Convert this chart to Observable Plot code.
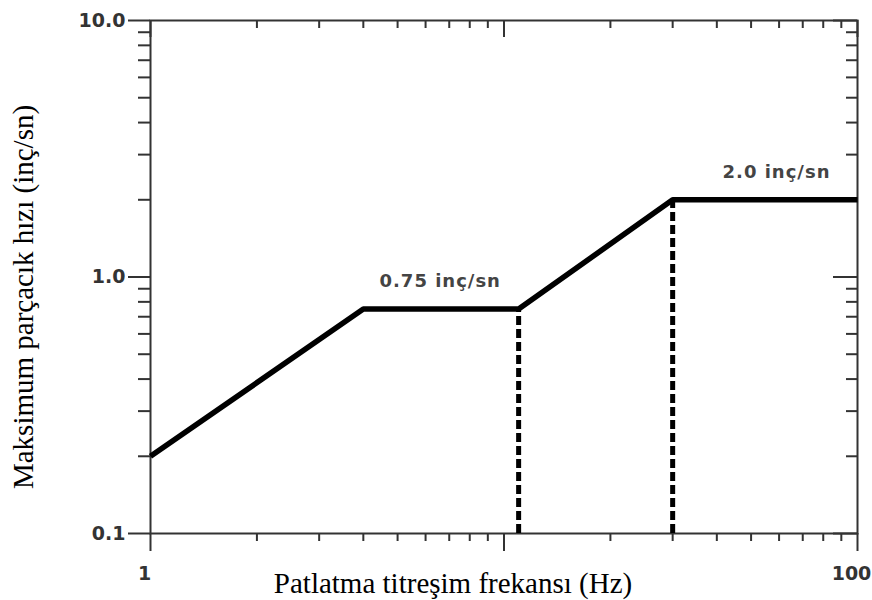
<!DOCTYPE html>
<html>
<head>
<meta charset="utf-8">
<script src="https://cdn.jsdelivr.net/npm/d3@7"></script>
<script src="https://cdn.jsdelivr.net/npm/@observablehq/plot@0.6"></script>
<style>
  html, body { margin: 0; padding: 0; background: #fff; }
  #chart svg { display: block; background: #fff; }
</style>
</head>
<body>
<div id="chart"></div>
<script>
// ---- data ----
const freq = [1, 4, 11, 30, 100];            // Hz
const ppv = [0.2, 0.75, 0.75, 2.0, 2.0];      // inç/sn
const dashFreq = [11, 30];
const dashPpv = [0.75, 2.0];
const xMajor = [1, 10, 100];
const xMinor = [2, 3, 4, 5, 6, 7, 8, 9, 20, 30, 40, 50, 60, 70, 80, 90];
const yMajor = [0.1, 1, 10];
const yMinor = [0.2, 0.3, 0.4, 0.5, 0.6, 0.7, 0.8, 0.9, 2, 3, 4, 5, 6, 7, 8, 9];
const xTickValues = [1, 100];
const xTickLabels = ["1", "100"];
const yTickValues = [0.1, 1, 10];
const yTickLabels = ["0.1", "1.0", "10.0"];
const annText = ["0.75 inç/sn", "2.0 inç/sn"];
const annFreq = [6.6, 59];
const annPpv = [0.75, 2.0];
const xLabel = "Patlatma titreşim frekansı (Hz)";
const yLabel = "Maksimum parçacık hızı (inç/sn)";

// ---- layout ----
const W = 872, H = 600;
const mL = 150, mR = 15, mT = 20, mB = 67;
const pW = W - mL - mR, pH = H - mT - mB;
const ink = "#333";
const sans = "'DejaVu Sans', sans-serif";
const serif = "'Liberation Serif', 'Times New Roman', serif";

const line = freq.map((f, i) => ({f, v: ppv[i]}));
const dashes = dashFreq.map((f, i) => ({f, v: dashPpv[i]}));
const anns = annText.map((t, i) => ({t, f: annFreq[i], v: annPpv[i]}));

const chart = Plot.plot({
  width: W, height: H,
  marginLeft: mL, marginRight: mR, marginTop: mT, marginBottom: mB,
  x: {type: "log", domain: [1, 100]},
  y: {type: "log", domain: [0.1, 10]},
  style: {background: "#fff"},
  marks: [
    // minor ticks
    Plot.tickX(xMinor, {x: d => d, stroke: ink, strokeWidth: 2, insetTop: pH, insetBottom: -8}),
    Plot.tickX(xMinor, {x: d => d, stroke: ink, strokeWidth: 2, insetBottom: pH - 8}),
    Plot.tickY(yMinor, {y: d => d, stroke: ink, strokeWidth: 2, insetRight: pW, insetLeft: -12}),
    Plot.tickY(yMinor, {y: d => d, stroke: ink, strokeWidth: 2, insetLeft: pW - 11}),
    // major ticks
    Plot.tickX(xMajor, {x: d => d, stroke: ink, strokeWidth: 2, insetTop: pH, insetBottom: -18}),
    Plot.tickX(xMajor, {x: d => d, stroke: ink, strokeWidth: 2, insetBottom: pH - 17}),
    Plot.tickY(yMajor, {y: d => d, stroke: ink, strokeWidth: 2, insetRight: pW, insetLeft: -22}),
    Plot.tickY(yMajor, {y: d => d, stroke: ink, strokeWidth: 2, insetLeft: pW - 24}),
    Plot.frame({stroke: ink, strokeWidth: 2}),
    // tick labels
    Plot.axisX(xTickValues, {
      anchor: "bottom", tickSize: 0, tickPadding: 33, dx: -6,
      tickFormat: d => xTickLabels[xTickValues.indexOf(d)],
      fontSize: 19, fontFamily: sans, fontWeight: "bold", fill: ink, label: null
    }),
    Plot.axisY(yTickValues, {
      anchor: "left", tickSize: 0, tickPadding: 25,
      tickFormat: d => yTickLabels[yTickValues.indexOf(d)],
      fontSize: 19, fontFamily: sans, fontWeight: "bold", fill: ink, label: null
    }),
    // dashed verticals
    Plot.ruleX(dashes, {x: "f", y1: 0.1, y2: "v", stroke: "#000", strokeWidth: 5, strokeDasharray: "9,4"}),
    // criterion line
    Plot.line(line, {x: "f", y: "v", stroke: "#000", strokeWidth: 5.5, strokeLinejoin: "miter", strokeLinecap: "butt"}),
    // annotations
    Plot.text(anns, {x: "f", y: "v", text: "t", dy: -22, lineAnchor: "bottom", textAnchor: "middle",
      fontSize: 18, fontFamily: sans, fontWeight: "bold", fill: "#444"}),
    // axis titles
    Plot.text([xLabel], {frameAnchor: "bottom", text: d => d, dx: -51, dy: 59, lineAnchor: "bottom",
      textAnchor: "middle", fontSize: 29, fontFamily: serif, fill: "#000"}),
    Plot.text([yLabel], {frameAnchor: "left", text: d => d, rotate: -90, dx: -118, dy: 20, lineAnchor: "bottom",
      textAnchor: "middle", fontSize: 29, fontFamily: serif, fill: "#000"})
  ]
});

document.getElementById("chart").appendChild(chart);
d3.select(chart).selectAll("text").filter(function() { return /inç\/sn$/.test(this.textContent) && this.textContent.length < 15; })
  .style("letter-spacing", "1px");
</script>
</body>
</html>
